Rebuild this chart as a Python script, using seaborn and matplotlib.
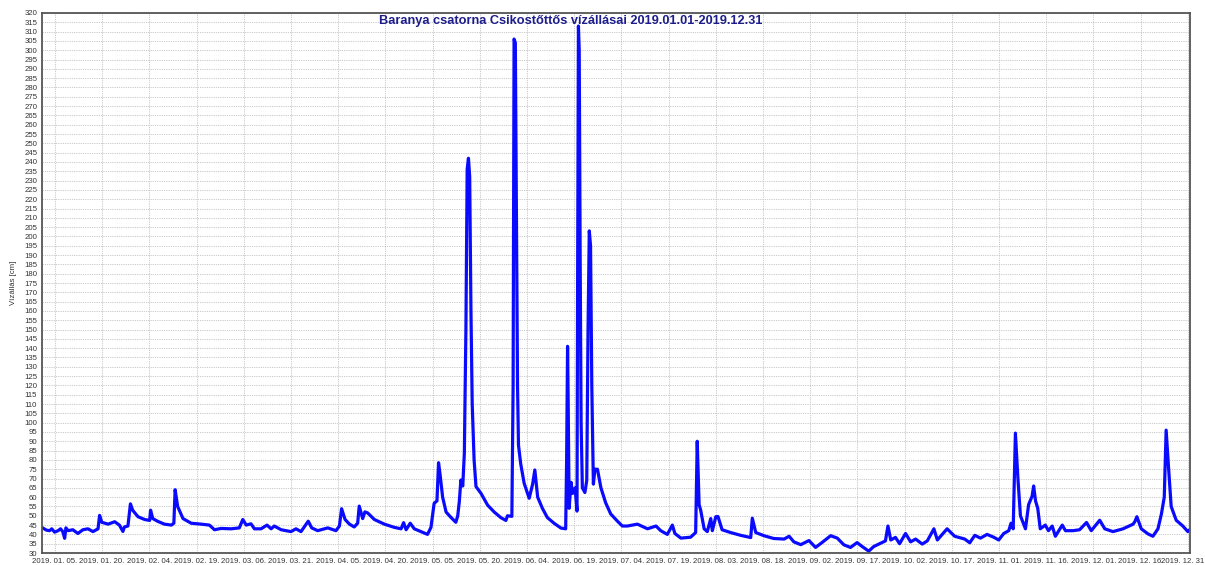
import numpy as np
import pandas as pd
import matplotlib
matplotlib.use("Agg")
import matplotlib.pyplot as plt
import matplotlib.dates as mdates
import seaborn as sns

# ---- data (days since 2019-01-01, water level in cm) ----
days = [0.0, 1.3, 2.3, 3.0, 3.9, 5.0, 5.8, 6.5, 7.1, 7.5, 8.2, 9.7, 11.3, 12.9, 14.5, 16.1, 17.7,
        18.2, 18.9, 20.9, 23.0, 24.5, 25.6, 26.1, 27.2, 28.0, 28.7, 30.4, 32.5, 34.1, 34.4, 35.1,
        36.7, 38.8, 41.0, 41.8, 42.2, 43.0, 44.7, 47.3, 50.5, 53.1, 54.7, 56.8, 60.0, 62.6, 63.7,
        64.8, 66.3, 67.4, 69.5, 71.4, 72.7, 73.7, 75.9, 79.0, 80.6, 82.2, 84.5, 85.6, 87.5, 90.7,
        93.3, 94.4, 95.1, 96.2, 97.6, 99.1, 100.2, 100.7, 101.8, 102.5, 103.4, 105.5, 108.7,
        111.8, 114.0, 114.8, 115.6, 116.9, 118.2, 120.3, 122.4, 123.5, 124.5, 125.4, 125.9,
        126.4, 127.2, 128.3, 129.8, 131.4, 132.0, 132.5, 133.0, 133.6, 134.1, 134.6, 135.0,
        135.4, 135.8, 136.2, 136.6, 137.2, 137.8, 139.4, 141.5, 143.6, 145.7, 147.3, 147.8,
        149.2, 149.6, 149.9, 150.3, 150.7, 151.0, 151.3, 152.0, 153.1, 154.7, 155.8, 156.5,
        157.4, 158.9, 160.5, 162.6, 164.8, 166.3, 166.6, 166.9, 167.1, 167.4, 168.0, 168.5,
        169.3, 169.9, 170.1, 170.35, 170.6, 170.9, 171.2, 171.6, 172.4, 173.0, 173.4, 173.8,
        174.2, 174.6, 175.1, 175.6, 176.4, 177.5, 179.0, 180.6, 182.8, 184.3, 185.9, 189.1,
        192.3, 195.0, 196.5, 198.6, 200.2, 201.0, 202.9, 206.0, 207.6, 208.1, 208.7, 209.2,
        210.3, 211.3, 212.4, 212.9, 214.0, 214.7, 216.0, 218.7, 221.9, 225.1, 225.6, 226.7,
        229.3, 232.4, 235.7, 237.3, 238.8, 241.0, 243.6, 245.7, 247.8, 250.5, 252.6, 254.7,
        256.8, 258.9, 260.5, 262.6, 264.2, 266.3, 267.9, 268.7, 269.6, 271.1, 272.4, 274.3,
        275.9, 277.5, 279.6, 281.2, 283.3, 284.4, 287.5, 289.9, 293.1, 294.7, 296.3, 298.1,
        300.2, 302.3, 303.9, 305.5, 307.1, 307.8, 308.5, 309.2, 310.0, 310.8, 312.4, 313.4,
        314.5, 315.0, 315.6, 316.3, 317.1, 318.7, 319.7, 320.9, 321.9, 324.1, 325.1, 327.5,
        329.6, 331.8, 333.3, 336.0, 337.6, 340.2, 343.4, 346.6, 347.2, 347.8, 349.2, 351.3,
        352.9, 354.5, 355.6, 356.5, 357.1, 357.9, 358.7, 360.3, 362.4, 364.0, 364.6]
levels = [43.6, 42.3, 42.0, 43.0, 41.2, 42.0, 43.0, 41.5, 37.9, 43.5, 42.0, 42.5, 40.5, 42.5, 43.0,
          41.5, 43.0, 50.2, 46.5, 45.5, 46.8, 45.0, 41.6, 44.0, 44.5, 56.4, 53.0, 49.5, 48.0, 47.5,
          53.0, 48.5, 47.0, 45.5, 45.0, 46.0, 64.0, 55.0, 48.5, 46.0, 45.5, 45.0, 42.5, 43.2, 43.0,
          43.5, 48.0, 45.0, 45.7, 43.0, 43.0, 45.0, 43.0, 44.5, 42.5, 41.5, 43.0, 41.5, 47.1, 43.5,
          42.0, 43.5, 42.0, 44.5, 53.8, 48.0, 45.5, 44.0, 46.0, 55.2, 48.5, 52.1, 51.5, 48.0, 45.5,
          43.8, 43.0, 46.3, 42.5, 46.0, 43.0, 41.5, 40.0, 43.8, 56.7, 58.0, 78.5, 72.0, 60.0, 52.0,
          49.2, 46.5, 50.0, 57.6, 69.2, 66.0, 83.6, 150, 236, 242, 232, 160, 110, 80, 65.7, 62.0,
          55.7, 52.0, 49.0, 47.5, 50.0, 49.7, 120, 306, 304, 200, 120, 88, 78, 67.5, 59.4, 67.0,
          74.6, 60.0, 54.0, 49.0, 46.0, 43.4, 43.0, 80, 141, 110, 54.0, 68.0, 62.0, 65.0, 52.5,
          180, 313, 300, 190, 100, 65.0, 62.5, 69.0, 150, 203, 195, 120, 67.0, 75.0, 75.0, 65.0,
          57.0, 51.0, 47.0, 44.5, 44.5, 45.5, 43.0, 44.5, 42.0, 40.0, 45.0, 40.5, 38.0, 38.5,
          41.0, 90.0, 56.0, 53.0, 43.0, 41.5, 48.5, 42.0, 49.5, 49.6, 42.5, 41.0, 39.5, 38.3,
          48.7, 41.0, 39.3, 37.8, 37.5, 39.0, 36.0, 34.5, 36.7, 33.0, 35.7, 39.3, 38.0, 34.4,
          33.0, 35.6, 33.5, 31.0, 33.5, 35.2, 36.5, 44.5, 37.0, 38.4, 35.0, 40.5, 36.0, 37.5,
          34.8, 36.5, 43.0, 37.0, 43.0, 39.0, 37.5, 35.5, 39.5, 38.0, 40.0, 38.5, 37.0, 40.5,
          42.0, 46.0, 43.0, 94.4, 70.0, 50.0, 43.0, 56.0, 60.5, 66.0, 58.0, 54.0, 43.0, 45.0,
          42.0, 44.5, 39.0, 45.0, 42.0, 42.0, 42.5, 46.4, 42.0, 47.6, 43.0, 41.5, 43.0, 45.5,
          47.0, 49.5, 43.0, 40.3, 39.0, 43.0, 51.0, 60.0, 96.0, 75.0, 55.0, 47.6, 44.5, 41.5, 42.5]

title = "Baranya csatorna Csikostőttős vízállásai 2019.01.01-2019.12.31"
ylabel = "Vízállás [cm]"
start = pd.Timestamp("2019-01-01")
tick_dates = pd.date_range("2019-01-05", periods=25, freq="15D")
tick_labels = [d.strftime("%Y. %m. %d.") for d in tick_dates]
last_label = "2019. 12. 31"
tick_labels[-1] = ""
y_ticks = list(range(30, 325, 5))

df = pd.DataFrame({"date": start + pd.to_timedelta(days, unit="D"), "level": levels})

sns.set_style("white")
plt.rcParams["font.family"] = ["Liberation Sans", "DejaVu Sans"]

fig = plt.figure(figsize=(12.05, 5.65), dpi=100)
ax = fig.add_axes([0.0349, 0.0212, 0.9527, 0.9558])

sns.lineplot(data=df, x="date", y="level", ax=ax, color="#0a0aff", linewidth=2.3,
             estimator=None, sort=False)

ax.set_xlim(start + pd.Timedelta(hours=-2), start + pd.Timedelta(days=364.7))
ax.set_ylim(30, 320)
ax.set_xticks(tick_dates)
ax.set_xticklabels(tick_labels, fontsize=5.6, color="#333333")
ax.annotate(last_label, xy=(mdates.date2num(tick_dates[-1].to_pydatetime()), 0),
            xycoords=ax.get_xaxis_transform(),
            xytext=(-4, -3.5), textcoords="offset points", ha="center", va="top",
            fontsize=5.6, color="#333333", annotation_clip=False)
ax.set_yticks(y_ticks)
ax.set_yticklabels([str(v) for v in y_ticks], fontsize=5.6, color="#333333")
ax.tick_params(axis="both", length=2, width=0.6, pad=1.5, colors="#444444", labelcolor="#333333")
ax.set_xlabel("")
ax.set_ylabel(ylabel, fontsize=5.6, color="#333333", labelpad=5)

ax.grid(True, which="major", color="#c4c4c4", linestyle=(0, (1.5, 1.2)), linewidth=0.6)
ax.set_axisbelow(True)
for side, sp in ax.spines.items():
    sp.set_visible(True)
    sp.set_color("#555555")
    sp.set_linewidth(1.3)

fig.text(0.474, 0.962, title, ha="center", va="center", fontsize=9.2,
         fontweight="bold", color="#1c1c8c")

fig.savefig("out.png", dpi=100, facecolor="white")
